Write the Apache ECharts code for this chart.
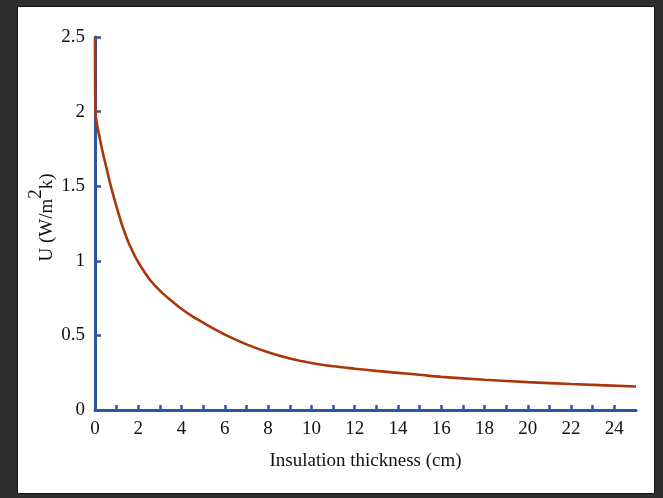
<!DOCTYPE html>
<html>
<head>
<meta charset="utf-8">
<script src="https://cdn.jsdelivr.net/npm/echarts@6/dist/echarts.min.js"></script>
<style>
  html, body { margin: 0; padding: 0; background: #2e2e2e; }
  .panel { position: absolute; left: 17px; top: 6px; width: 636px; height: 486px; background: #fff; border: 1px solid #111; }
  #chart { position: absolute; left: 0; top: 0; width: 663px; height: 498px; }
</style>
</head>
<body>
<div class="panel"></div>
<div id="chart"></div>
<script>
// insulation thickness (cm) and U value (W/m2k)
var thickness = [0, 0.02, 0.25, 0.5, 0.75, 1, 1.25, 1.5, 1.75, 2, 2.5, 3, 3.5, 4, 4.5, 5, 5.5, 6, 7, 8, 9, 10, 11, 12, 13, 14, 15, 16, 18, 20, 22, 25];
var uValue = [2.5, 2.0, 1.8, 1.64, 1.49, 1.36, 1.24, 1.14, 1.06, 0.99, 0.88, 0.8, 0.735, 0.677, 0.628, 0.585, 0.543, 0.505, 0.44, 0.387, 0.345, 0.315, 0.293, 0.277, 0.262, 0.249, 0.236, 0.222, 0.203, 0.187, 0.174, 0.157];

var points = thickness.map(function (t, i) { return [t, uValue[i]]; });

var axisBlue = '#2f55a1';
var serif = 'Liberation Serif';
var chart = echarts.init(document.getElementById('chart'));
var option = {
  backgroundColor: 'transparent',
  animation: false,
  grid: { left: 95, right: 27, top: 37, bottom: 88 },
  xAxis: {
    type: 'value',
    min: 0,
    max: 25,
    interval: 1,
    name: 'Insulation thickness (cm)',
    nameLocation: 'middle',
    nameGap: 42,
    nameTextStyle: { fontFamily: serif, fontSize: 19, color: '#111' },
    axisLine: { lineStyle: { color: axisBlue, width: 3 } },
    axisTick: { inside: true, length: 5, lineStyle: { color: axisBlue, width: 2.5 } },
    axisLabel: {
      margin: 10,
      fontFamily: serif, fontSize: 19, color: '#111',
      showMaxLabel: false,
      formatter: function (v) { return v % 2 === 0 ? String(v) : ''; }
    },
    splitLine: { show: false }
  },
  yAxis: {
    type: 'value',
    min: 0,
    max: 2.5,
    interval: 0.5,
    name: '{a|U (W/m}{s|2}{a|k)}',
    nameLocation: 'middle',
    nameGap: 38,
    nameMoveOverlap: false,
    nameTextStyle: {
      padding: [0, 0, 0, 12],
      rich: {
        a: { fontFamily: serif, fontSize: 19, color: '#111', lineHeight: 30, verticalAlign: 'bottom' },
        s: { fontFamily: serif, fontSize: 19, color: '#111', verticalAlign: 'top' }
      }
    },
    axisLine: { show: true, lineStyle: { color: axisBlue, width: 3 } },
    axisTick: { show: true, inside: true, length: 6, lineStyle: { color: axisBlue, width: 2.5 } },
    axisLabel: { margin: 10, fontFamily: serif, fontSize: 19, color: '#111' },
    splitLine: { show: false }
  },
  series: [
    {
      type: 'line',
      data: points,
      showSymbol: false,
      smooth: 0.3,
      lineStyle: { color: '#a8380a', width: 2.6 },
      z: 1
    }
  ]
};
chart.setOption(option);
</script>
</body>
</html>
